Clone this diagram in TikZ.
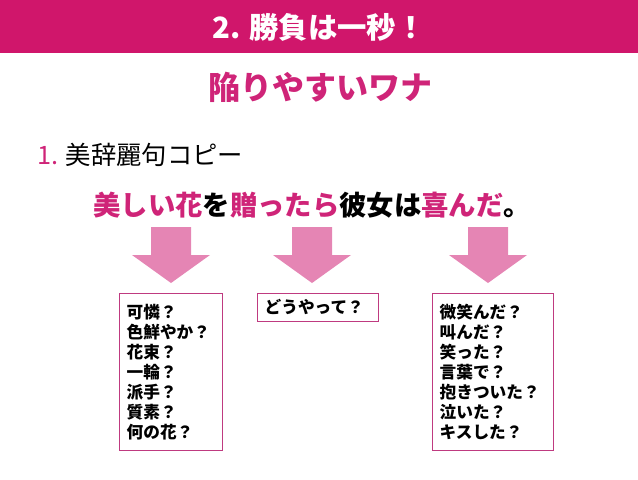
\documentclass[tikz,border=0pt]{standalone}
\usepackage{fontspec}
\setmainfont{Noto Sans CJK JP}
\usepackage{xcolor}
\usepackage{tikz}
\usetikzlibrary{positioning}
\definecolor{band}{HTML}{D0166B}
\definecolor{mag}{HTML}{CF2478}
\definecolor{arrpink}{HTML}{E585B4}
\definecolor{boxline}{HTML}{BF3A80}

\begin{document}
\begin{tikzpicture}[x=0.75pt,y=-0.75pt,every node/.style={inner sep=0pt},listbox/.style={draw=boxline,line width=0.6pt,anchor=north west,align=left,inner xsep=5.5pt,font=\bfseries\fontsize{12.5}{15}\selectfont},blockarr/.style={fill=arrpink,draw=none}]
\useasboundingbox (0,0) rectangle (638,479);
\fill[band] (0,0) rectangle (638,53);
\node[text=white,font=\bfseries\fontsize{22}{26}\selectfont] (title) at (319,27) {2. 勝負は一秒！};
\node[text=mag,font=\bfseries\fontsize{24}{28}\selectfont] (trap) at (320,87) {陥りやすいワナ};
\node[anchor=west,font=\fontsize{19}{22}\selectfont] (item) at (37,155) {\textcolor{mag}{1.} 美辞麗句コピー};
\node[font=\bfseries\fontsize{20.5}{24}\selectfont] (sent) at (312,205) {\textcolor{mag}{美しい花}を\textcolor{mag}{贈ったら}彼女は\textcolor{mag}{喜んだ}。};
% block arrows
\foreach \cx in {171,312,488}
  \fill[blockarr] (\cx-20,227) -- (\cx+20,227) -- (\cx+20,255) -- (\cx+39,255) -- (\cx,283) -- (\cx-39,255) -- (\cx-20,255) -- cycle;
\node[listbox,text width=66pt,minimum height=118pt] (look) at (119,293) {可憐？\\色鮮やか？\\花束？\\一輪？\\派手？\\質素？\\何の花？};
\node[listbox,text width=79.5pt,minimum height=21pt] (how) at (257,293) {どうやって？};
\node[listbox,text width=79.5pt,minimum height=118pt] (react) at (432,293) {微笑んだ？\\叫んだ？\\笑った？\\言葉で？\\抱きついた？\\泣いた？\\キスした？};
\end{tikzpicture}
\end{document}
